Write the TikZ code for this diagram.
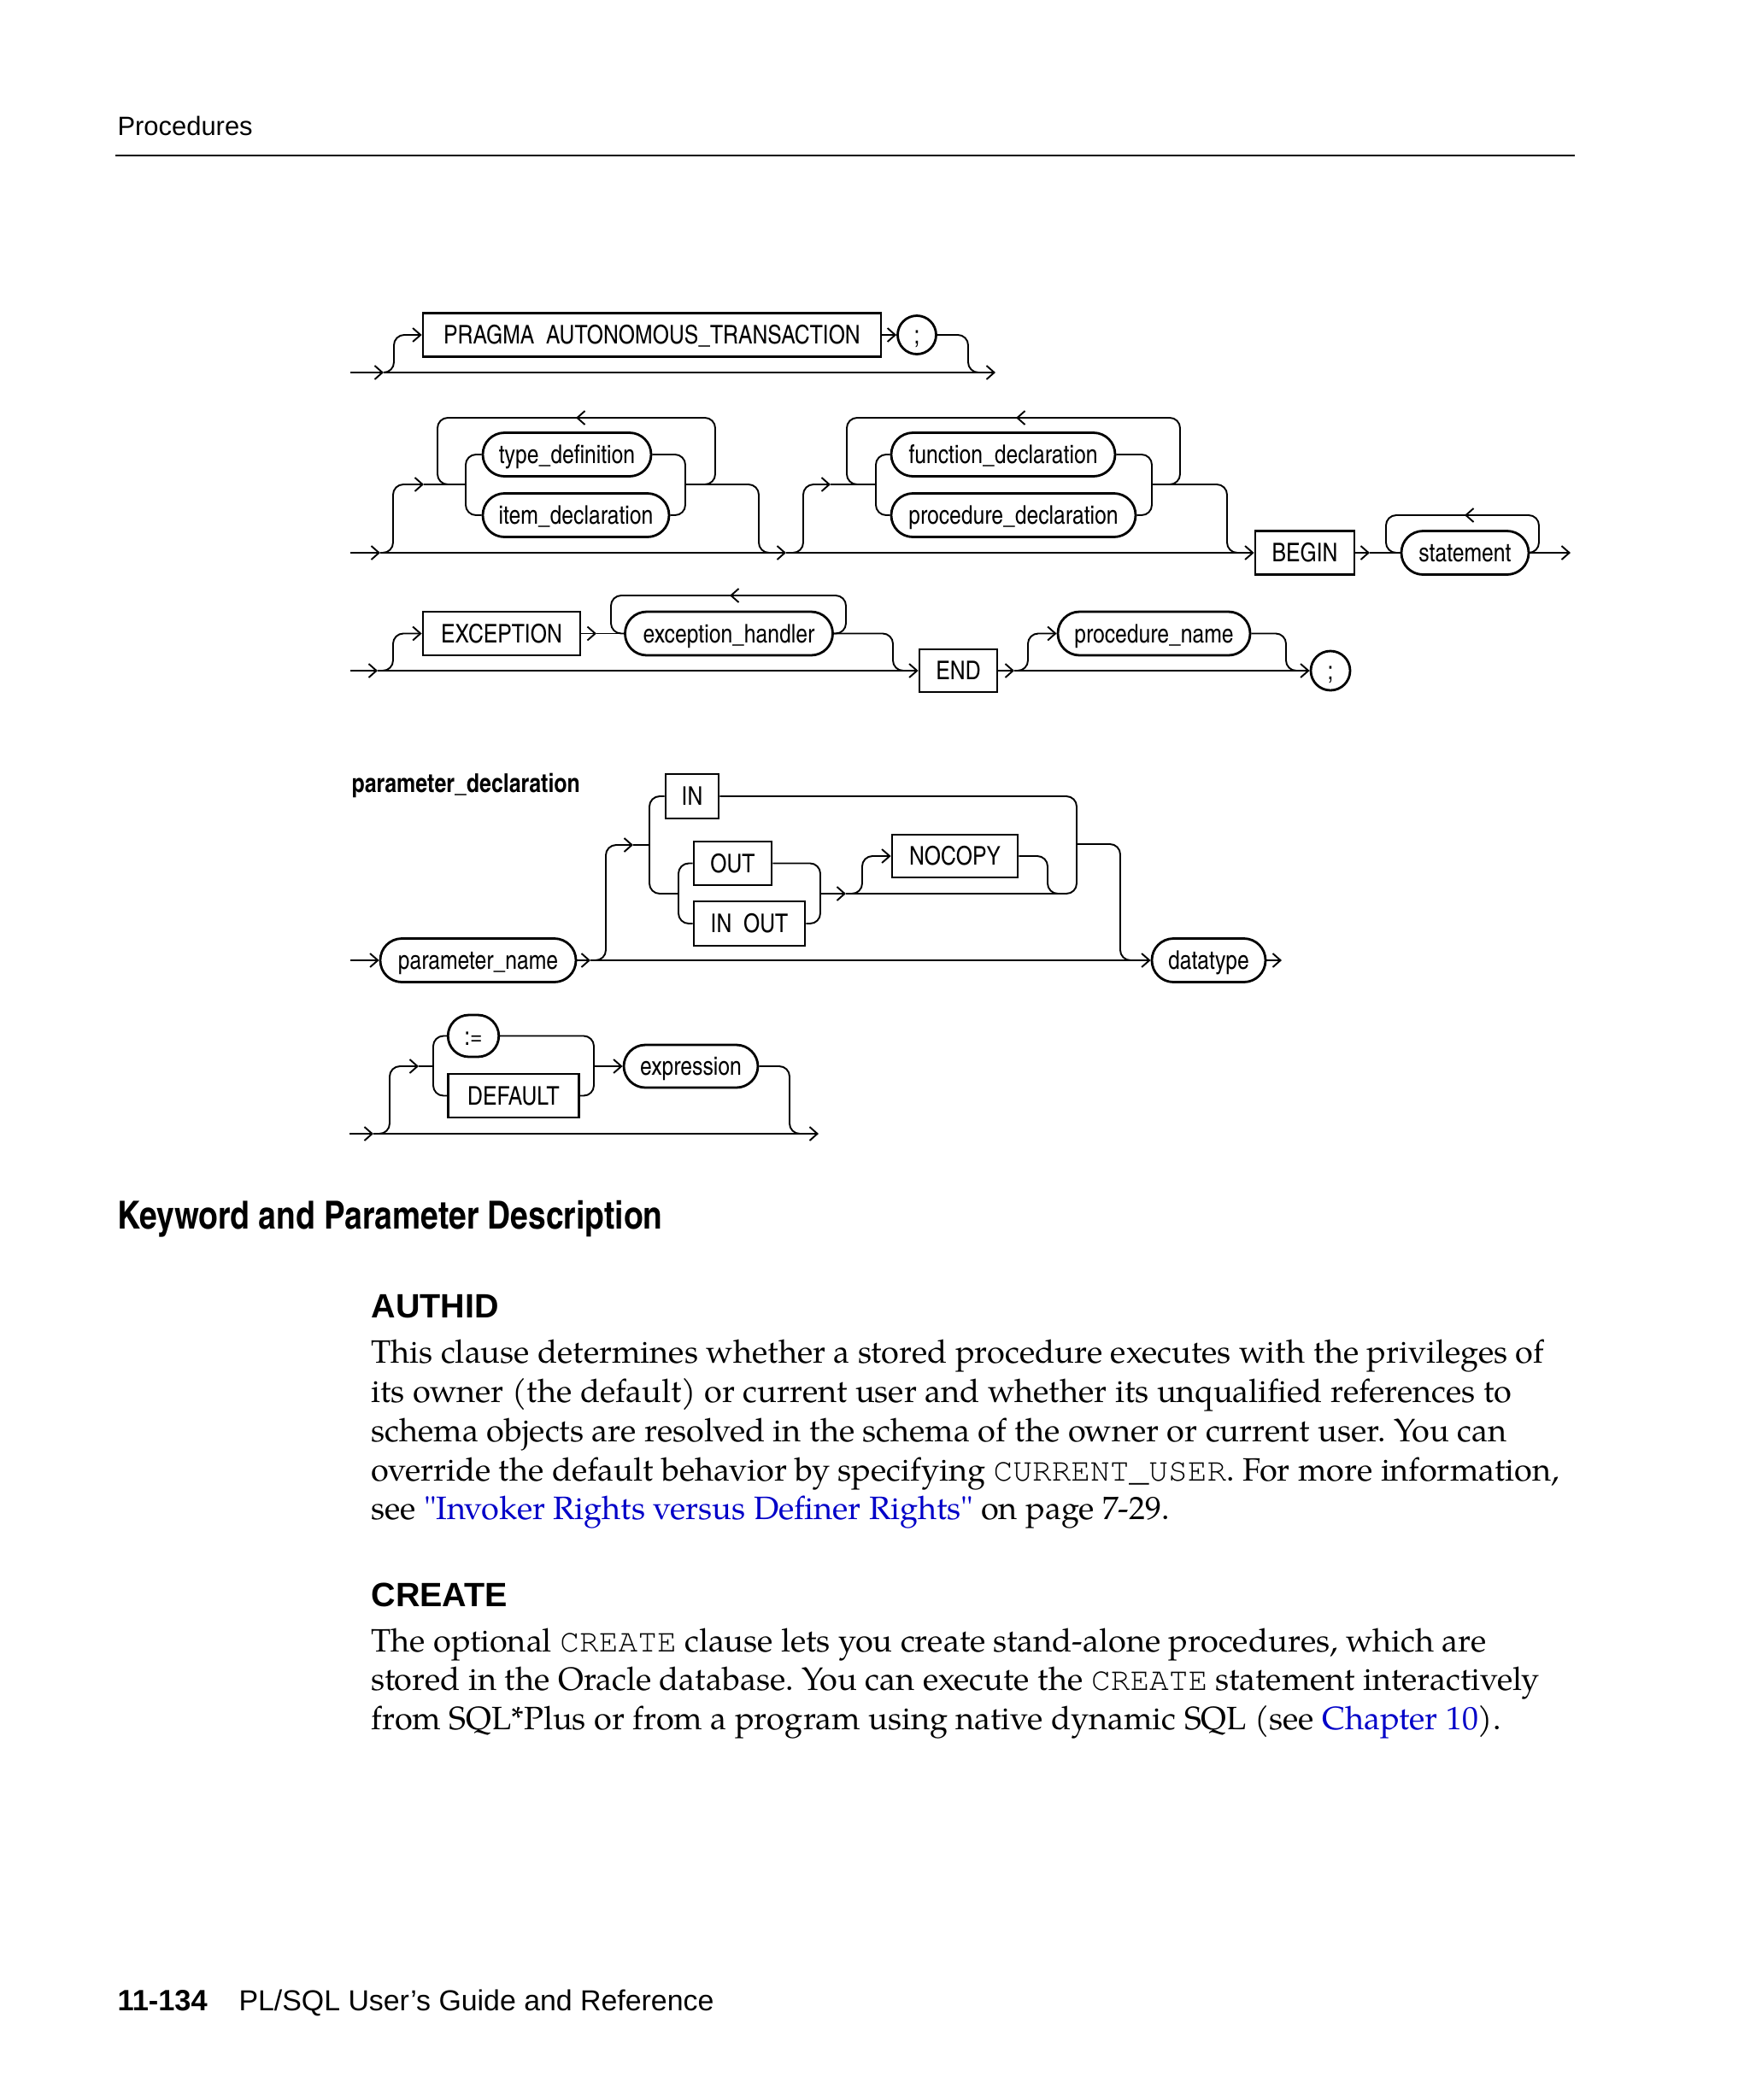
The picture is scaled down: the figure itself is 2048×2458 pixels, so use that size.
\documentclass[tikz,border=0pt]{standalone}
\usepackage{fontspec}
\setmainfont{Liberation Serif}
\newfontfamily\bodyf{texgyrepagella}[Extension=.otf,UprightFont=*-regular]
\newfontfamily\monof{texgyrecursor}[Extension=.otf,UprightFont=*-regular]
\newfontfamily\arialf{Liberation Sans}
\newfontfamily\condf{texgyreheroscn}[Extension=.otf,UprightFont=*-regular,BoldFont=*-bold]
\usetikzlibrary{arrows.meta}
\newcommand\PXu{*0.375pt}
\newcommand\dfont{\condf\fontsize{11.3}{13}\selectfont}
\newcommand\code[1]{{\monof #1}}
\definecolor{linkblue}{RGB}{0,0,200}
\frenchspacing
\tikzset{
  x=0.375pt, y=-0.375pt,
  >={Straight Barb[length=3.4pt,width=6pt]},
  conn/.style={line width=0.72pt, rounded corners=4.5pt},
  kw/.style={draw, rectangle, line width=1.05pt, inner sep=0pt, minimum height=51\PXu,
    font=\dfont, text height=10.6pt, text depth=2.5pt},
  nt/.style={kw, rounded corners=9.5pt},
  term/.style={draw, circle, line width=1.05pt, inner sep=0pt, minimum size=45\PXu,
    font=\dfont, text height=10.6pt, text depth=2.5pt},
  txt/.style={anchor=base west, inner sep=0pt},
  body/.style={txt, font=\bodyf\fontsize{14.2}{17}\selectfont\frenchspacing},
}
\begin{document}
\begin{tikzpicture}
\fill[white] (0,0) rectangle (2048,2458);
\useasboundingbox (0,0) rectangle (2048,2458);

% header
\node[txt, font=\arialf\fontsize{11.6}{14}\selectfont] (hdr) at (137,158) {Procedures};
\draw[line width=0.75pt] (135,182) -- (1843,182);

% ---------------- row 1
\node[kw, minimum width=536\PXu] (pragma) at (763,392) {PRAGMA\ \ AUTONOMOUS\_TRANSACTION};
\node[term] (semi1) at (1073,392) {;};
\coordinate (r1s) at (410,436);
\coordinate (r1a) at (449,436);
\coordinate (r1e) at (1165,436);
\draw[conn,->] (r1s) -- (r1a);
\draw[conn,->] (r1a) -- (r1e);
\draw[conn,->] (r1a) -- (461,436) -- (461,392) -- (pragma.west);
\draw[conn,->] (pragma.east) -- (semi1.west);
\draw[conn] (semi1.east) -- (1133,392) -- (1133,436) -- (1150,436);

% ---------------- row 2
\node[nt, minimum width=197\PXu] (typedef) at (663.5,532) {type\_definition};
\node[nt, minimum width=218\PXu] (itemdecl) at (674,603) {item\_declaration};
\node[nt, minimum width=262\PXu] (fundecl) at (1174,532) {function\_declaration};
\node[nt, minimum width=286\PXu] (procdecl) at (1186,603) {procedure\_declaration};
\node[kw, minimum width=116\PXu] (begin) at (1527,647) {BEGIN};
\node[nt, minimum width=149\PXu] (stmt) at (1714.5,647) {statement};
\coordinate (r2s) at (410,647);
\coordinate (r2a) at (445,647);
\coordinate (r2b) at (920,647);
\coordinate (r2e) at (1838,647);
\draw[conn,->] (r2s) -- (r2a);
\draw[conn,->] (r2a) -- (r2b);
\draw[conn,->] (r2b) -- (begin.west);
% group A
\draw[conn,->] (r2a) -- (460,647) -- (460,567) -- (496,567);
\draw[conn] (496,567) -- (545,567);
\draw[conn] (typedef.west) -- (545,532) -- (545,603) -- (itemdecl.west);
\draw[conn] (typedef.east) -- (802,532) -- (802,603) -- (itemdecl.east);
\draw[conn] (802,567) -- (888,567) -- (888,647) -- (905,647);
\draw[conn] (802,567) -- (837,567) -- (837,489) -- (512,489) -- (512,567) -- (545,567);
\draw[conn,->] (690,489) -- (674,489);
% group B
\draw[conn,->] (r2b) -- (940,647) -- (940,567) -- (972,567);
\draw[conn] (972,567) -- (1025,567);
\draw[conn] (fundecl.west) -- (1025,532) -- (1025,603) -- (procdecl.west);
\draw[conn] (fundecl.east) -- (1348,532) -- (1348,603) -- (procdecl.east);
\draw[conn] (1348,567) -- (1436,567) -- (1436,647) -- (1452,647);
\draw[conn] (1348,567) -- (1381,567) -- (1381,489) -- (991,489) -- (991,567) -- (1025,567);
\draw[conn,->] (1205,489) -- (1189,489);
% begin / statement
\draw[conn,->] (begin.east) -- (1603,647);
\draw[conn] (1603,647) -- (stmt.west);
\draw[conn] (stmt.east) -- (1801,647) -- (1801,603) -- (1622,603) -- (1622,647) -- (stmt.west);
\draw[conn,->] (1730,603) -- (1714,603);
\draw[conn,->] (stmt.east) -- (r2e);

% ---------------- row 3
\node[kw, minimum width=184\PXu] (exc) at (587,741.5) {EXCEPTION};
\node[nt, minimum width=243\PXu] (handler) at (853,741.5) {exception\_handler};
\node[kw, minimum width=91\PXu, minimum height=50\PXu] (endkw) at (1121.5,785) {END};
\node[nt, minimum width=225\PXu] (pname) at (1350.5,741.5) {procedure\_name};
\node[term, minimum size=46\PXu] (semi2) at (1557,785) {;};
\coordinate (r3s) at (410,785);
\coordinate (r3a) at (442,785);
\coordinate (r3b) at (1187,785);
\draw[conn,->] (r3s) -- (r3a);
\draw[conn,->] (r3a) -- (endkw.west);
\draw[conn,->] (r3a) -- (460,785) -- (460,741.5) -- (exc.west);
\draw[conn,->] (exc.east) -- (698,741.5);
\draw[conn] (698,741.5) -- (handler.west);
\draw[conn] (handler.east) -- (990,741.5) -- (990,697) -- (715,697) -- (715,741.5) -- (handler.west);
\draw[conn,->] (870,697) -- (854,697);
\draw[conn] (handler.east) -- (1045,741.5) -- (1045,785) -- (1060,785);
\draw[conn,->] (endkw.east) -- (r3b);
\draw[conn,->] (r3b) -- (semi2.west);
\draw[conn,->] (r3b) -- (1203,785) -- (1203,741.5) -- (pname.west);
\draw[conn] (pname.east) -- (1505,741.5) -- (1505,785) -- (1520,785);

% ---------------- parameter_declaration
\node[txt, font=\condf\bfseries\fontsize{11.4}{13}\selectfont] (ptitle) at (411,927) {parameter\_declaration};
\node[nt, minimum width=229\PXu] (parname) at (559.5,1124) {parameter\_name};
\node[kw, minimum width=62\PXu, minimum height=52\PXu] (inkw) at (810,932) {IN};
\node[kw, minimum width=91\PXu] (outkw) at (857.5,1010.5) {OUT};
\node[kw, minimum width=130\PXu, minimum height=52\PXu] (inoutkw) at (877,1081) {IN\ \ OUT};
\node[kw, minimum width=147\PXu, minimum height=50\PXu] (nocopy) at (1117.5,1002) {NOCOPY};
\node[nt, minimum width=133\PXu] (datatype) at (1414.5,1124) {datatype};
\coordinate (ps) at (410,1124);
\coordinate (pa) at (691,1124);
\coordinate (pb) at (990,1046);
\coordinate (pe) at (1500,1124);
\draw[conn,->] (ps) -- (parname.west);
\draw[conn,->] (parname.east) -- (pa);
\draw[conn,->] (pa) -- (datatype.west);
\draw[conn,->] (datatype.east) -- (pe);
\draw[conn,->] (pa) -- (709,1124) -- (709,989) -- (741,989);
\draw[conn] (741,989) -- (760,989);
\draw[conn] (inkw.west) -- (760,932) -- (760,1046) -- (794,1046);
\draw[conn] (outkw.west) -- (794,1010.5) -- (794,1081) -- (inoutkw.west);
\draw[conn] (outkw.east) -- (960,1010.5) -- (960,1081) -- (inoutkw.east);
\draw[conn,->] (960,1046) -- (pb);
\draw[conn,->] (pb) -- (1009,1046) -- (1009,1002) -- (nocopy.west);
\draw[conn] (nocopy.east) -- (1226,1002) -- (1226,1046) -- (1240,1046);
\draw[conn] (inkw.east) -- (1260,932) -- (1260,1046) -- (pb);
\draw[conn] (1260,988) -- (1311,988) -- (1311,1124) -- (1328,1124);

% ---------------- default row
\node[nt, minimum width=59.5\PXu, minimum height=49\PXu, rounded corners=9.2pt] (assign) at (554,1212.5) {:=};
\node[kw, minimum width=152.5\PXu] (default) at (601,1282.5) {DEFAULT};
\node[nt, minimum width=157\PXu, minimum height=50\PXu] (expr) at (808.5,1248) {expression};
\coordinate (ds) at (409,1327);
\coordinate (da) at (437,1327);
\coordinate (de) at (958,1327);
\draw[conn,->] (ds) -- (da);
\draw[conn,->] (da) -- (de);
\draw[conn,->] (da) -- (456,1327) -- (456,1248) -- (490,1248);
\draw[conn] (490,1248) -- (507,1248);
\draw[conn] (assign.west) -- (507,1212.5) -- (507,1282.5) -- (default.west);
\draw[conn] (assign.east) -- (695,1212.5) -- (695,1282.5) -- (default.east);
\draw[conn,->] (695,1248) -- (expr.west);
\draw[conn] (expr.east) -- (924,1248) -- (924,1327) -- (940,1327);

% ---------------- text
\node[txt, font=\condf\bfseries\fontsize{17}{20}\selectfont] (kpd) at (137,1438) {Keyword and Parameter Description};
\node[txt, font=\arialf\bfseries\fontsize{14.8}{17}\selectfont] (authid) at (434,1542) {AUTHID};
\node[body] (a1) at (434,1595) {This clause determines whether a stored procedure executes with the privileges of};
\node[body] (a2) at (434,1641) {its owner (the default) or current user and whether its unqualified references to};
\node[body] (a3) at (434,1687) {schema objects are resolved in the schema of the owner or current user. You can};
\node[body] (a4) at (434,1733) {override the default behavior by specifying \code{CURRENT\_USER}. For more information,};
\node[body] (a5) at (434,1778) {see {\color{linkblue}"Invoker Rights versus Definer Rights"} on page 7-29.};
\node[txt, font=\arialf\bfseries\fontsize{14.8}{17}\selectfont] (create) at (434,1880) {CREATE};
\node[body] (c1) at (434,1933) {The optional \code{CREATE} clause lets you create stand-alone procedures, which are};
\node[body] (c2) at (434,1978) {stored in the Oracle database. You can execute the \code{CREATE} statement interactively};
\node[body] (c3) at (434,2024) {from SQL*Plus or from a program using native dynamic SQL (see {\color{linkblue}Chapter 10}).};

% footer
\node[txt, font=\arialf\bfseries\fontsize{12.9}{15}\selectfont] (pgno) at (137,2353) {11-134};
\node[txt, font=\arialf\fontsize{12.7}{15}\selectfont] (book) at (279,2353) {PL/SQL User’s Guide and Reference};
\end{tikzpicture}
\end{document}
